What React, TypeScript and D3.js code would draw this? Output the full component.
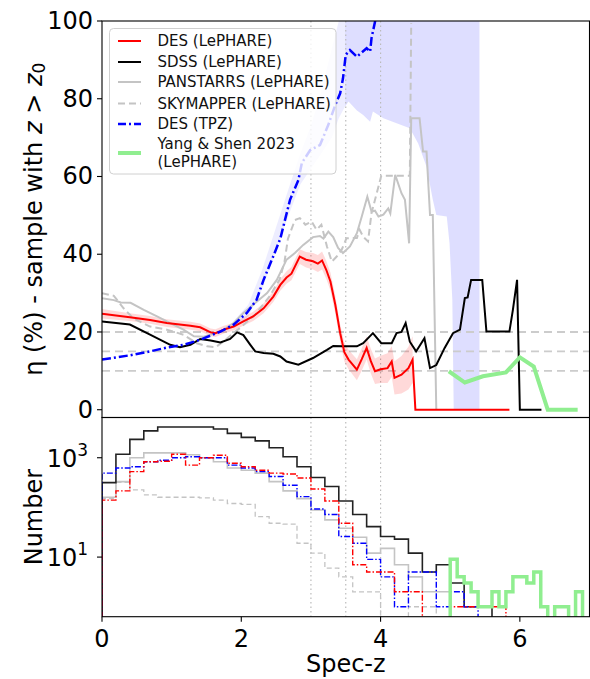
import * as d3 from 'd3';
import React from 'react';

// ---- top panel: outlier fraction vs spec-z ----
const desLeZ = [0, 0.4, 0.69, 0.93, 1.27, 1.41, 1.56, 1.63, 1.75, 1.89, 2.03, 2.17, 2.32, 2.46, 2.56, 2.65, 2.72, 2.84, 2.93, 3.03, 3.1, 3.16, 3.22, 3.28, 3.35, 3.42, 3.48, 3.54, 3.6, 3.66, 3.73, 3.8, 3.86, 3.92, 4.0, 4.1, 4.16, 4.2, 4.3, 4.4, 4.46, 4.5, 5.85];
const desLeEta = [24.7, 23.8, 23.1, 22.3, 21.6, 21.2, 19.9, 19.7, 20.6, 21.4, 22.7, 24.0, 26.1, 29.1, 32.1, 34.0, 35.0, 39.4, 38.6, 38.2, 37.6, 38.4, 36.0, 33.0, 27.0, 19.7, 14.8, 12.9, 11.6, 10.3, 13.0, 15.9, 12.5, 9.9, 10.4, 10.7, 12.4, 8.2, 9.0, 10.7, 12.9, 0, 0];
const desLeErr = [1.2, 1.0, 1.0, 1.0, 1.0, 1.0, 1.0, 1.0, 1.0, 1.0, 1.1, 1.2, 1.3, 1.4, 1.5, 1.6, 1.7, 1.9, 2.0, 2.1, 2.2, 2.3, 2.3, 2.3, 2.3, 2.3, 2.4, 2.5, 2.6, 2.7, 2.9, 3.0, 3.2, 3.3, 3.5, 3.8, 4.0, 4.3, 4.8, 5.5, 6.0, 0, 0];

const sdssZ = [0, 0.4, 0.69, 0.98, 1.12, 1.27, 1.41, 1.56, 1.7, 1.84, 1.94, 2.03, 2.13, 2.2, 2.32, 2.46, 2.56, 2.65, 2.82, 3.03, 3.23, 3.32, 3.46, 3.66, 3.75, 3.89, 4.01, 4.16, 4.23, 4.3, 4.36, 4.42, 4.51, 4.63, 4.71, 4.8, 4.92, 5.04, 5.14, 5.21, 5.25, 5.3, 5.46, 5.52, 5.85, 5.9, 5.96, 6.0, 6.31];
const sdssEta = [22.7, 21.9, 19.3, 16.7, 16.1, 16.7, 18.2, 17.8, 17.3, 18.2, 19.9, 19.2, 16.7, 15.0, 14.6, 14.4, 13.7, 12.4, 11.6, 13.3, 15.4, 16.4, 16.3, 16.3, 17.1, 19.7, 17.1, 17.1, 19.7, 20.0, 22.3, 17.5, 15.0, 18.4, 10.7, 11.5, 15.9, 19.7, 20.6, 28.7, 28.9, 33.4, 33.4, 20.1, 20.1, 25.7, 33.4, 0, 0];

const panZ = [0, 0.17, 0.27, 0.41, 0.6, 0.79, 0.98, 1.17, 1.32, 1.46, 1.6, 1.75, 1.89, 2.03, 2.17, 2.37, 2.51, 2.65, 2.77, 2.89, 3.03, 3.13, 3.18, 3.25, 3.32, 3.39, 3.46, 3.56, 3.66, 3.73, 3.81, 3.87, 3.92, 3.97, 4.04, 4.11, 4.14, 4.21, 4.3, 4.35, 4.41, 4.44, 4.56, 4.61, 4.66, 4.71, 4.75, 4.8];
const panEta = [28.7, 28.2, 27.6, 27.5, 25.7, 24.0, 22.3, 20.6, 18.9, 18.8, 19.5, 20.6, 22.3, 24.9, 27.0, 30.0, 33.4, 38.6, 40.3, 42.4, 44.4, 44.7, 44.0, 45.8, 44.4, 41.6, 40.3, 42.0, 45.4, 49.7, 54.8, 51.0, 51.2, 49.7, 50.2, 51.8, 50.5, 60.4, 55.7, 54.0, 42.8, 75.0, 75.0, 66.4, 66.4, 50.1, 50.1, 0];

const skyZ = [0, 0.17, 0.31, 0.45, 0.69, 0.93, 1.17, 1.36, 1.51, 1.63, 1.75, 1.87, 1.98, 2.2, 2.4, 2.55, 2.62, 2.67, 2.77, 2.84, 2.92, 3.01, 3.08, 3.15, 3.23, 3.3, 3.37, 3.44, 3.51, 3.66, 3.7, 3.75, 3.82, 3.87, 3.97, 4.01, 4.42, 4.44];
const skyEta = [30.0, 29.3, 26.1, 23.5, 21.4, 20.6, 19.3, 17.1, 16.3, 16.1, 17.6, 19.5, 21.0, 24.5, 29.0, 33.5, 38.0, 44.0, 48.8, 49.3, 47.6, 48.4, 46.3, 47.6, 42.0, 38.1, 39.4, 41.1, 44.1, 44.2, 46.3, 44.5, 43.3, 50.6, 57.4, 60.2, 60.2, 99.5];

const tpzZ = [0, 0.4, 0.69, 0.93, 1.17, 1.41, 1.7, 1.89, 2.08, 2.22, 2.32, 2.46, 2.56, 2.7, 2.82, 2.87, 2.99, 3.13, 3.25, 3.35, 3.42, 3.46, 3.5, 3.56, 3.66, 3.8, 3.85, 3.87, 3.92, 3.95];
const tpzEta = [12.9, 14.0, 15.0, 16.0, 16.7, 18.0, 20.1, 21.9, 24.9, 28.3, 33.4, 39.5, 44.0, 54.0, 59.1, 63.5, 66.8, 68.1, 73.3, 78.4, 81.4, 85.2, 91.3, 92.5, 90.8, 93.0, 92.1, 95.6, 99.8, 105];

const tpzBandZ = [1.9, 2.1, 2.3, 2.5, 2.7, 2.85, 3.0, 3.15, 3.3, 3.4, 3.49];
const tpzBandLo = [21, 24, 31, 41, 51, 58, 62, 66, 70, 75, 78];
const tpzBandHi = [23, 27, 36, 47, 58, 66, 73, 82, 93, 100, 102];

const tpzWideZ = [3.49, 3.54, 3.66, 3.75, 3.85, 3.89, 4.04, 4.23, 4.42, 4.54, 4.66, 4.75, 4.8, 4.95, 4.99, 5.03, 5.05, 5.42];
const tpzWideLo = [78, 79.3, 77, 75.8, 74.1, 76.7, 75, 73.7, 72.4, 68.5, 62.5, 54, 50.1, 49.7, 42.8, 28.3, 0, 0];

const yangZ = [4.98, 5.21, 5.47, 5.8, 6.0, 6.2, 6.4, 6.83];
const yangEta = [9.9, 7.0, 8.6, 9.6, 13.5, 11.1, 0, 0];

const etaRefLines = [20, 15, 10];
const zRefLines = [3, 3.5, 4];

// ---- bottom panel: counts per spec-z bin ----
const binWidth = 0.2;
const sdssN = [316, 1175, 2340, 3470, 4170, 4170, 4170, 4170, 3800, 3090, 2570, 2190, 1585, 1050, 660, 400, 263, 135, 72, 41, 26, 23, 12, 5, 7, 3, 1, 1, 0];
const panN = [160, 330, 1000, 1250, 1250, 1250, 1150, 1000, 830, 620, 560, 490, 330, 215, 150, 89, 56, 38, 25, 12, 15, 7, 4, 2, 2, 0];
const skyN = [150, 320, 225, 178, 160, 160, 160, 155, 140, 120, 115, 65, 48, 46, 19, 12, 6, 4, 2, 2, 0, 0, 1, 1, 0];
const tpzN = [490, 620, 660, 830, 890, 1000, 1050, 1000, 1000, 710, 620, 525, 420, 280, 165, 93, 72, 26, 19, 9, 4, 1, 5, 5, 1, 2, 1, 0];
const desLeN = [140, 215, 525, 830, 850, 1175, 710, 1000, 1120, 775, 660, 560, 490, 470, 390, 235, 135, 48, 7, 5, 5, 2, 2, 0, 0, 1, 1, 1, 1, 0];
const yangStart = 5.0;
const yangBinWidth = 0.1;
const yangN = [9, 4, 3, 2, 1, 1, 2, 1, 2, 4, 4, 3, 5, 1, 0, 1, 1, 0, 2, 0];

const zTicks = [0, 2, 4, 6];
const etaTicks = [0, 20, 40, 60, 80, 100];
const nTicks = [{ v: 10, exp: '1' }, { v: 1000, exp: '3' }];

const legendItems = [
    { label: ['DES (LePHARE)'], color: 'red', dash: '', w: 2 },
    { label: ['SDSS (LePHARE)'], color: 'black', dash: '', w: 2 },
    { label: ['PANSTARRS (LePHARE)'], color: '#c4c4c4', dash: '', w: 2 },
    { label: ['SKYMAPPER (LePHARE)'], color: '#c4c4c4', dash: '7,4', w: 2 },
    { label: ['DES (TPZ)'], color: 'blue', dash: '8,3,2,3', w: 2.5 },
    { label: ['Yang & Shen 2023', '(LePHARE)'], color: '#90ee90', dash: '', w: 4 },
];

const W = 590;
const H = 679;
const FONT = 'DejaVu Sans, sans-serif';
const L = 102, R = 589.5;
const T1 = 21, B1 = 417.5, B2 = 616.7;

const App: React.FC = () => {
    const x = d3.scaleLinear().domain([0, 7]).range([L, R]);
    const yEta = d3.scaleLinear().domain([-2, 100]).range([B1, T1]);
    const yN = d3.scaleLog().domain([Math.pow(10, -0.2), Math.pow(10, 3.81)]).range([B2, B1]);

    const curve = (zs: number[], vs: number[]) =>
        d3.line<number>().x((_, i) => x(zs[i])).y((v) => yEta(v))(vs) || '';

    const redBand = d3.area<number>()
        .x((_, i) => x(desLeZ[i]))
        .y0((v, i) => yEta(v - desLeErr[i]))
        .y1((v, i) => yEta(v + desLeErr[i]))(desLeEta.slice(0, 41)) || '';

    const tpzBand = d3.area<number>()
        .x((_, i) => x(tpzBandZ[i]))
        .y0((v) => yEta(v))
        .y1((_, i) => yEta(tpzBandHi[i]))(tpzBandLo) || '';

    const tpzWide = d3.area<number>()
        .x((_, i) => x(tpzWideZ[i]))
        .y0((v) => yEta(v))
        .y1(() => yEta(100))(tpzWideLo) || '';

    // step histogram outline; empty bins fall below the axis and get clipped
    const FLOOR = 1e-3;
    const step = (start: number, width: number, counts: number[]) => {
        const pts: [number, number][] = [[start, FLOOR]];
        counts.forEach((c, i) => {
            const v = c > 0 ? c : FLOOR;
            pts.push([start + i * width, v]);
            pts.push([start + (i + 1) * width, v]);
        });
        pts.push([start + counts.length * width, FLOOR]);
        return d3.line<[number, number]>().x((d) => x(d[0])).y((d) => yN(d[1]))(pts) || '';
    };

    const tickFont = 24;

    return (
        <svg width={W} height={H} style={{ position: 'absolute', left: 0, top: 0, background: 'white' }} fontFamily={FONT}>
            <defs>
                <clipPath id="clipTop"><rect x={L} y={T1} width={R - L} height={B1 - T1} /></clipPath>
                <clipPath id="clipBot"><rect x={L} y={B1} width={R - L} height={B2 - B1} /></clipPath>
            </defs>

            {/* ---------- top panel ---------- */}
            <g clipPath="url(#clipTop)">
                <path d={tpzBand} fill="blue" fillOpacity={0.07} />
                <path d={tpzWide} fill="blue" fillOpacity={0.13} />
                {zRefLines.map((z) => (
                    <line key={z} x1={x(z)} x2={x(z)} y1={T1} y2={B1} stroke="#bbb" strokeWidth={1.2} strokeDasharray="1.5,3" />
                ))}
                {etaRefLines.map((v) => (
                    <line key={v} x1={L} x2={R} y1={yEta(v)} y2={yEta(v)} stroke="#ccc" strokeWidth={1.8} strokeDasharray="8,5" />
                ))}
                <path d={redBand} fill="red" fillOpacity={0.15} />
                <path d={curve(skyZ, skyEta)} fill="none" stroke="#c4c4c4" strokeWidth={2} strokeDasharray="7,4" />
                <path d={curve(panZ, panEta)} fill="none" stroke="#c4c4c4" strokeWidth={2} />
                <path d={curve(sdssZ, sdssEta)} fill="none" stroke="black" strokeWidth={2} />
                <path d={curve(desLeZ, desLeEta)} fill="none" stroke="red" strokeWidth={2} />
                <path d={curve(tpzZ, tpzEta)} fill="none" stroke="blue" strokeWidth={2.5} strokeDasharray="9,3,2,3" />
                <path d={curve(yangZ, yangEta)} fill="none" stroke="#90ee90" strokeWidth={4} />
            </g>

            {/* legend */}
            <g>
                <rect x={109.5} y={28.5} width={226.5} height={145.5} rx={4} fill="white" fillOpacity={0.8} stroke="#d0d0d0" strokeWidth={1} />
                {legendItems.map((it, i) => {
                    const rowY = [41, 62, 82, 103.5, 124, 153][i];
                    return (
                        <g key={i}>
                            <line x1={118} x2={141} y1={rowY} y2={rowY} stroke={it.color} strokeWidth={it.w} strokeDasharray={it.dash || undefined} />
                            {it.label.map((t, j) => (
                                <text key={j} x={157.5} y={rowY + (it.label.length > 1 ? (j === 0 ? -9 : 9) : 0)} fontSize={15} dominantBaseline="central" fill="#111">{t}</text>
                            ))}
                        </g>
                    );
                })}
            </g>

            {/* top axes */}
            <rect x={L} y={T1} width={R - L} height={B1 - T1} fill="none" stroke="black" strokeWidth={1.1} />
            {etaTicks.map((v) => (
                <g key={v}>
                    <line x1={L - 5} x2={L} y1={yEta(v)} y2={yEta(v)} stroke="black" strokeWidth={1.1} />
                    <text x={L - 9} y={yEta(v)} textAnchor="end" dominantBaseline="central" fontSize={tickFont}>{v}</text>
                </g>
            ))}
            <text transform={`translate(34,${(T1 + B1) / 2}) rotate(-90)`} textAnchor="middle" dominantBaseline="central" fontSize={tickFont}>
                η (%) - sample with <tspan fontStyle="italic">z</tspan> &gt; <tspan fontStyle="italic">z</tspan><tspan fontSize={17} dy={5}>0</tspan>
            </text>

            {/* ---------- bottom panel ---------- */}
            <g clipPath="url(#clipBot)">
                {zRefLines.map((z) => (
                    <line key={z} x1={x(z)} x2={x(z)} y1={B1} y2={B2} stroke="#bbb" strokeWidth={1.2} strokeDasharray="1.5,3" />
                ))}
                <path d={step(0, binWidth, skyN)} fill="none" stroke="#c4c4c4" strokeWidth={1.3} strokeDasharray="5,3" />
                <path d={step(0, binWidth, panN)} fill="none" stroke="#c4c4c4" strokeWidth={1.6} />
                <path d={step(0, binWidth, sdssN)} fill="none" stroke="#222" strokeWidth={1.6} />
                <path d={step(0, binWidth, tpzN)} fill="none" stroke="blue" strokeWidth={1.4} strokeDasharray="6,2,1.5,2" />
                <path d={step(0, binWidth, desLeN)} fill="none" stroke="red" strokeWidth={1.4} strokeDasharray="6,2,1.5,2" />
                <path d={step(yangStart, yangBinWidth, yangN)} fill="none" stroke="#90ee90" strokeWidth={3.5} />
            </g>
            <rect x={L} y={B1} width={R - L} height={B2 - B1} fill="none" stroke="black" strokeWidth={1.1} />
            {nTicks.map((t) => (
                <g key={t.v}>
                    <line x1={L - 5} x2={L} y1={yN(t.v)} y2={yN(t.v)} stroke="black" strokeWidth={1.1} />
                    <text x={L - 14} y={yN(t.v) + 9} textAnchor="end" fontSize={tickFont}>
                        10<tspan fontSize={17} dy={-11}>{t.exp}</tspan>
                    </text>
                </g>
            ))}
            {zTicks.map((z) => (
                <g key={z}>
                    <line x1={x(z)} x2={x(z)} y1={B2} y2={B2 + 5} stroke="black" strokeWidth={1.1} />
                    <text x={x(z)} y={B2 + 30} textAnchor="middle" fontSize={tickFont}>{z}</text>
                </g>
            ))}
            <text transform={`translate(34,${(B1 + B2) / 2}) rotate(-90)`} textAnchor="middle" dominantBaseline="central" fontSize={tickFont}>Number</text>
            <text x={(L + R) / 2} y={672} textAnchor="middle" fontSize={tickFont}>Spec-z</text>
        </svg>
    );
};

export default App;
